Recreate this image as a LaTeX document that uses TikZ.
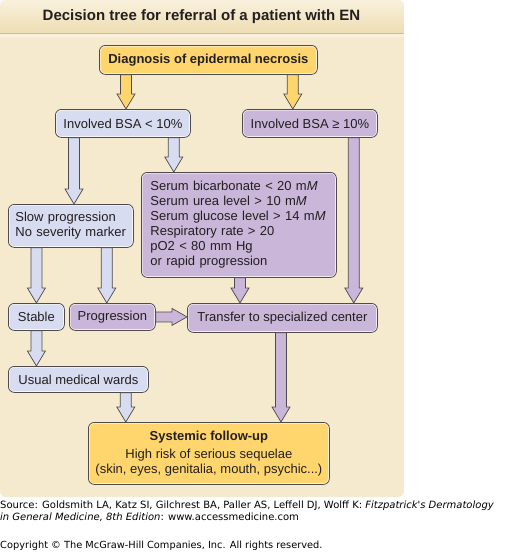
\documentclass[tikz,border=0pt]{standalone}
\usepackage{fontspec}
\setmainfont{Liberation Sans}
\newfontfamily\srcfont{DejaVu Sans}
\usepackage{tikz}
\usetikzlibrary{calc,positioning}
\definecolor{enpanel}{HTML}{F6EACE}
\definecolor{enhdtop}{HTML}{F9F1DD}
\definecolor{enhdbot}{HTML}{EEDDB3}
\definecolor{enhdline}{HTML}{CDBD9A}
\definecolor{enyellow}{HTML}{FFD66E}
\definecolor{enblue}{HTML}{D8DCF0}
\definecolor{enpurple}{HTML}{C9B6D9}
\definecolor{enedge}{HTML}{4F4B4D}
\definecolor{enink}{HTML}{231F20}
\tikzset{
  box/.style={rounded corners=6pt, draw=enedge, line width=0.8pt, inner sep=0pt,
    align=center, anchor=north west, text=enink, font=\fontsize{13}{15}\selectfont,
    path picture={\draw[white, opacity=0.75, line width=2.4pt, rounded corners=6pt]
      (path picture bounding box.south west) rectangle (path picture bounding box.north east);}},
  keybox/.style={box, fill=enyellow},
  lowbox/.style={box, fill=enblue},
  highbox/.style={box, fill=enpurple},
  leftbox/.style={align=left, inner xsep=#1},
  blkdown/.style={draw=enedge, line width=0.7pt, line join=miter, fill=#1,
    to path={let \p1=(\tikztostart), \p2=(\tikztotarget) in
      -- (\x1-5.5pt,\y1) -- (\x1-5.5pt,\y2+15pt) -- (\x1-9pt,\y2+15pt) -- (\x1,\y2)
      -- (\x1+9pt,\y2+15pt) -- (\x1+5.5pt,\y2+15pt) -- (\x1+5.5pt,\y1) -- cycle}},
  blkright/.style={draw=enedge, line width=0.7pt, line join=miter, fill=#1,
    to path={let \p1=(\tikztostart), \p2=(\tikztotarget) in
      -- (\x1,\y1+5pt) -- (\x2-15pt,\y1+5pt) -- (\x2-15pt,\y1+8.5pt) -- (\x2,\y1)
      -- (\x2-15pt,\y1-8.5pt) -- (\x2-15pt,\y1-5pt) -- (\x1,\y1-5pt) -- cycle}},
  srctext/.style={anchor=north west, inner sep=0pt, align=left, font=\srcfont\fontsize{#1}{12}\selectfont},
}
\begin{document}
\begin{tikzpicture}[x=1pt,y=-1pt]
\useasboundingbox (0,0) rectangle (506,552);
% panel and header band
\begin{scope}
\clip[rounded corners=6pt] (0,0) rectangle (404,497);
\fill[enpanel] (0,0) rectangle (404,497);
\shade[top color=enhdtop, bottom color=enhdbot] (0,0) rectangle (404,33);
\fill[enhdline] (0,33) rectangle (404,34.3);
\fill[enhdtop] (0,34.3) rectangle (404,37);
\end{scope}
\node[font=\bfseries\fontsize{15}{17}\selectfont, text=enink] (title) at (201.5,17) {Decision tree for referral of a patient with EN};

\node[keybox, minimum width=218pt, minimum height=29pt, font=\bfseries\fontsize{13}{15}\selectfont] (dx) at (99,45) {Diagnosis of epidermal necrosis};
\node[lowbox, minimum width=135pt, minimum height=28pt] (bsalow) at (55,109) {Involved BSA < 10\%};
\node[highbox, minimum width=135pt, minimum height=28pt] (bsahigh) at (242,109) {Involved BSA ≥ 10\%};
\node[lowbox, minimum height=43pt, leftbox=7pt, text width=111pt] (slow) at (8,204) {Slow progression\\No severity marker};
\node[highbox, minimum height=105pt, leftbox=9pt, text width=177pt] (serum) at (141,172)
  {Serum bicarbonate < 20 m\textit{M}\\Serum urea level > 10 m\textit{M}\\Serum glucose level > 14 m\textit{M}\\Respiratory rate > 20\\pO2 < 80 mm Hg\\or rapid progression};
\node[lowbox, minimum width=56pt, minimum height=27pt] (stable) at (8,303) {Stable};
\node[highbox, minimum width=86pt, minimum height=27pt] (prog) at (69,303) {Progression};
\node[highbox, minimum width=190pt, minimum height=29pt] (transfer) at (187,303) {Transfer to specialized center};
\node[lowbox, minimum width=140pt, minimum height=26pt] (usual) at (8,366) {Usual medical wards};
\node[keybox, minimum width=241pt, minimum height=62pt] (follow) at (88,422)
  {\textbf{Systemic follow-up}\\[3pt]High risk of serious sequelae\\(skin, eyes, genitalia, mouth, psychic...)};

\draw[blkdown=enyellow] ([xshift=27pt]dx.south west) to (bsalow.north);
\draw[blkdown=enyellow] ([xshift=-25pt]dx.south east) to (bsahigh.north);
\draw[blkdown=enblue] ([xshift=19pt]bsalow.south west) to (slow.north);
\draw[blkdown=enblue] ([xshift=-17pt]bsalow.south east) to (serum.north);
\draw[blkdown=enpurple] ([xshift=-24pt]bsahigh.south east) to (transfer.north);
\draw[blkdown=enblue] (stable.north |- slow.south) to (stable.north);
\draw[blkdown=enblue] ([xshift=-27pt]slow.south east) to (prog.north);
\draw[blkdown=enpurple] ([xshift=99pt]serum.south west) to (transfer.north);
\draw[blkright=enpurple] (prog.east) to (transfer.west);
\draw[blkdown=enblue] (stable.south) to (usual.north);
\draw[blkdown=enblue] ([xshift=-23pt]usual.south east) to (follow.north);
\draw[blkdown=enpurple] ([xshift=94pt]transfer.south west) to (follow.north);

\node[srctext=10] (src) at (0,500.5)
  {Source: Goldsmith LA, Katz SI, Gilchrest BA, Paller AS, Leffell DJ, Wolff K: \textit{Fitzpatrick's Dermatology}\\
   \textit{in General Medicine, 8th Edition}: www.accessmedicine.com};
\node[srctext=9.8] (copyr) at (0,541)
  {Copyright © The McGraw-Hill Companies, Inc. All rights reserved.};
\end{tikzpicture}
\end{document}
